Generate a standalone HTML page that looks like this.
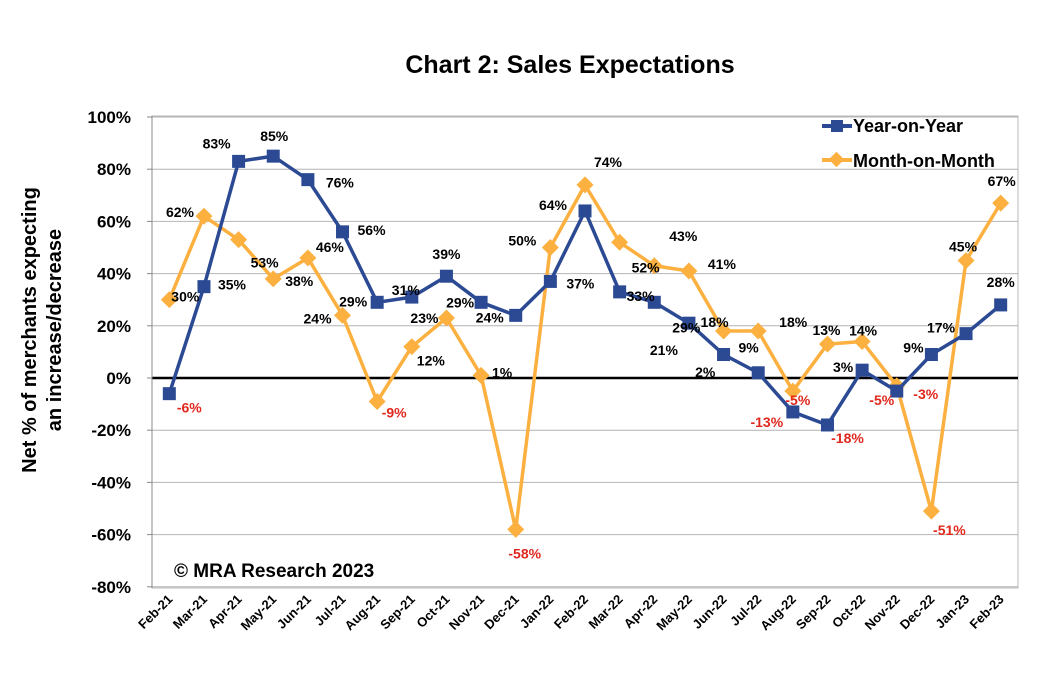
<!DOCTYPE html>
<html><head><meta charset="utf-8"><style>
body{margin:0;background:#fff;}
svg{display:block;font-family:"Liberation Sans",sans-serif;font-weight:bold;}
</style></head><body>
<svg id="chart" width="1040" height="677" viewBox="0 0 1040 677">
<text x="570" y="73" text-anchor="middle" font-size="25" fill="#000">Chart 2: Sales Expectations</text>
<g>
<text transform="translate(36,330) rotate(-90)" text-anchor="middle" font-size="20">Net % of merchants expecting</text>
<text transform="translate(61,330) rotate(-90)" text-anchor="middle" font-size="20">an increase/decrease</text>
</g>
<rect x="152" y="116" width="866" height="472" fill="none" stroke="#b8b8b8" stroke-width="1"/>
<g id="yaxis"></g><g id="xaxis"></g>
<line x1="152" y1="116" x2="152" y2="588" stroke="#888" stroke-width="1"/>
<g id="series"></g><g id="labels"></g>
<text x="174" y="577" font-size="19" fill="#000">© MRA Research 2023</text>
<g>
<g>
<line x1="822" y1="126" x2="852" y2="126" stroke="#2b4a93" stroke-width="4"/>
<rect x="831" y="120" width="12" height="12" fill="#2b4a93"/>
<text x="853" y="132" font-size="18">Year-on-Year</text></g>
<g>
<line x1="822" y1="160" x2="852" y2="160" stroke="#fbb040" stroke-width="4"/>
<rect x="831" y="154" width="11" height="11" fill="#fbb040" transform="rotate(45 836.5 159.5)"/>
<text x="853" y="167" font-size="18">Month-on-Month</text></g>
</g>
</svg>
<script>
const categories=["Feb-21","Mar-21","Apr-21","May-21","Jun-21","Jul-21","Aug-21","Sep-21","Oct-21","Nov-21","Dec-21","Jan-22","Feb-22","Mar-22","Apr-22","May-22","Jun-22","Jul-22","Aug-22","Sep-22","Oct-22","Nov-22","Dec-22","Jan-23","Feb-23"];
const yoyValues=[-6,35,83,85,76,56,29,31,39,29,24,37,64,33,29,21,9,2,-13,-18,3,-5,9,17,28];
const momValues=[30,62,53,38,46,24,-9,12,23,1,-58,50,74,52,43,41,18,18,-5,13,14,-3,-51,45,67];
const yTicks=[-80,-60,-40,-20,0,20,40,60,80,100];
const yoyLabelOff=[[20,14],[28,-2],[-22,-18],[1,-20],[32,3],[29,-2],[-24,-1],[-6,-7],[0,-22],[-21,0],[-26,2],[30,2],[-32,-6],[21,4],[32,25],[-25,27],[25,-7],[-53,-1],[-26,10],[20,13],[-19,-3],[-15,9],[-18,-7],[-25,-6],[0,-23]];
const momLabelOff=[[16,-3],[-24,-4],[26,23],[26,2],[22,-11],[-25,3],[17,11],[19,14],[-22,0],[21,-3],[9,24],[-28,-7],[23,-23],[26,25],[29,-30],[33,-7],[-9,-9],[35,-9],[5,9],[-1,-14],[1,-11],[29,8],[18,19],[-3,-14],[1,-22]];
const X0=152,X1=1018,Y0=378,PPU=2.61;
const step=(X1-X0)/categories.length;
function xs(i){return X0+step*(i+0.5);}
function ys(v){return Y0-v*PPU;}
const NS="http://www.w3.org/2000/svg";
function mk(t,a,p){const e=document.createElementNS(NS,t);for(const k in a)e.setAttribute(k,a[k]);p.appendChild(e);return e;}
const ya=document.getElementById('yaxis'),xa=document.getElementById('xaxis'),sg=document.getElementById('series'),lg=document.getElementById('labels');
yTicks.forEach(v=>{
 const g=mk('line',{x1:X0,x2:X1,y1:ys(v),y2:ys(v),stroke:'#b4b4b4','stroke-width':1},ya);
 
 
 const t=mk('text',{x:131,y:ys(v)+6,'text-anchor':'end','font-size':17},ya);t.textContent=v+'%';
 
 
 const l=mk('line',{x1:147,x2:152,y1:ys(v),y2:ys(v),stroke:'#888'},ya);
 
 
});
const zl=mk('line',{x1:X0,x2:X1,y1:ys(0),y2:ys(0),stroke:'#000','stroke-width':2.5},ya);


categories.forEach((c,i)=>{
 const x=xs(i)+4,y=600;
 const t=mk('text',{x:x,y:y,'text-anchor':'end','font-size':13,transform:`rotate(-45 ${x} ${y})`},xa);t.textContent=c;
 
 
});
function series(vals,color,name,marker,offs){
 const pts=vals.map((v,i)=>xs(i)+','+ys(v)).join(' ');
 const pl=mk('polyline',{points:pts,fill:'none',stroke:color,'stroke-width':3.5,'stroke-linejoin':'round'},sg);
 
 
 vals.forEach((v,i)=>{
  const x=xs(i),y=ys(v);let m;
  if(marker==='square'){m=mk('rect',{x:x-6.5,y:y-6.5,width:13,height:13,fill:color},sg);}
  else{m=mk('rect',{x:x-6,y:y-6,width:12,height:12,fill:color,transform:`rotate(45 ${x} ${y})`},sg);}
  
  
  const o=offs[i];
  const t=mk('text',{x:x+o[0],y:y+o[1]+5,'text-anchor':'middle','font-size':14,fill:v<0?'#e0281e':'#000'},lg);
  t.textContent=v+'%';
  
  
 });
}
series(momValues,'#fbb040','mom','diamond',momLabelOff);
series(yoyValues,'#2b4a93','yoy','square',yoyLabelOff);
</script>
</body></html>
